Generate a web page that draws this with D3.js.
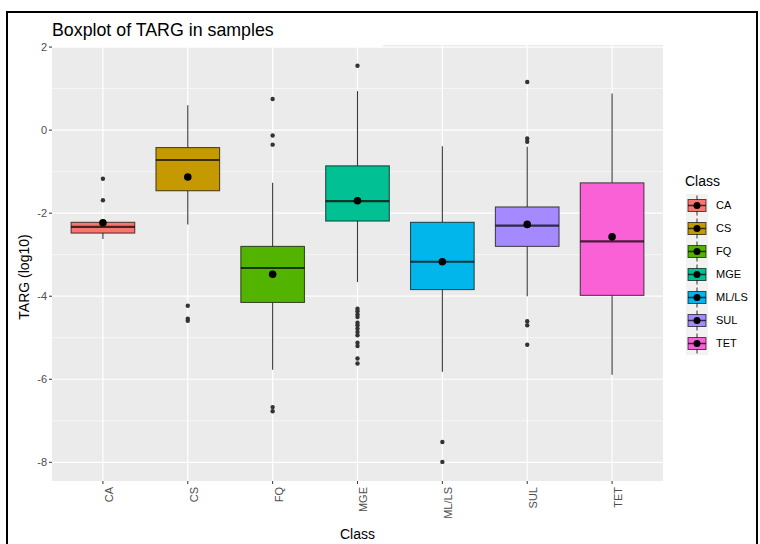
<!DOCTYPE html>
<html><head><meta charset="utf-8">
<script src="https://cdn.jsdelivr.net/npm/d3@7"></script>
<style>body{margin:0;background:#fff;font-family:"Liberation Sans",Arial,sans-serif;}</style>
</head><body><svg id="c" width="760" height="544"></svg>
<script>
const categories = ["CA","CS","FQ","MGE","ML/LS","SUL","TET"];
const colors = ["#F8766D","#C49A00","#53B400","#00C094","#00B6EB","#A58AFF","#FB61D7"];
const q1 = [-2.48,-1.46,-4.15,-2.19,-3.84,-2.80,-3.98];
const medians = [-2.33,-0.72,-3.32,-1.71,-3.17,-2.30,-2.68];
const q3 = [-2.22,-0.42,-2.80,-0.86,-2.22,-1.85,-1.27];
const whiskerLow = [-2.62,-2.27,-5.77,-3.66,-5.82,-4.00,-5.89];
const whiskerHigh = [-2.20,0.60,-1.27,0.94,-0.39,-0.40,0.88];
const means = [-2.23,-1.13,-3.47,-1.70,-3.17,-2.27,-2.57];
const outliers = [
  [-1.17,-1.69],
  [-4.23,-4.54,-4.59],
  [0.75,-0.13,-0.35,-6.67,-6.77],
  [1.55,-4.30,-4.36,-4.44,-4.50,-4.64,-4.70,-4.78,-4.86,-4.94,-5.12,-5.20,-5.50,-5.62],
  [-7.51,-7.99],
  [1.16,-0.20,-0.28,-4.60,-4.70,-5.17],
  []
];
const yTicks = [-8,-6,-4,-2,0,2];
const yMinor = [-7,-5,-3,-1,1];

const svg = d3.select("#c");
const P = {l:52, r:663, t:45, b:481};
const y = d3.scaleLinear().domain([-8.45,2.05]).range([P.b,P.t]);
const x = d3.scalePoint().domain(categories).range([P.l,P.r]).padding(0.6);
const bw = x.step()*0.75;

// outer border
svg.append("rect").attr("x",7).attr("y",12).attr("width",750).attr("height",540)
  .attr("fill","none").attr("stroke","#000").attr("stroke-width",2);

// panel
svg.append("rect").attr("x",P.l).attr("y",P.t).attr("width",P.r-P.l).attr("height",P.b-P.t).attr("fill","#EBEBEB");
const g = svg.append("g");
g.selectAll(".mn").data(yMinor).join("line").attr("x1",P.l).attr("x2",P.r)
  .attr("y1",d=>y(d)).attr("y2",d=>y(d)).attr("stroke","#fff").attr("stroke-width",0.6);
g.selectAll(".mj").data(yTicks).join("line").attr("x1",P.l).attr("x2",P.r)
  .attr("y1",d=>y(d)).attr("y2",d=>y(d)).attr("stroke","#fff").attr("stroke-width",1.2);
g.selectAll(".vx").data(categories).join("line").attr("x1",d=>x(d)).attr("x2",d=>x(d))
  .attr("y1",P.t).attr("y2",P.b).attr("stroke","#fff").attr("stroke-width",1.2);

// title with white background
svg.append("rect").attr("x",20).attr("y",16).attr("width",363).attr("height",31).attr("fill","#fff");
svg.append("text").attr("x",P.l).attr("y",36).attr("font-size",17.8).attr("fill","#000")
  .text("Boxplot of TARG in samples");

// boxes
const bx = svg.append("g");
categories.forEach((c,i)=>{
  const cx = x(c);
  bx.append("line").attr("x1",cx).attr("x2",cx).attr("y1",y(whiskerHigh[i])).attr("y2",y(q3[i]))
    .attr("stroke","#3a3a3a").attr("stroke-width",1.1);
  bx.append("line").attr("x1",cx).attr("x2",cx).attr("y1",y(q1[i])).attr("y2",y(whiskerLow[i]))
    .attr("stroke","#3a3a3a").attr("stroke-width",1.1);
  bx.append("rect").attr("x",cx-bw/2).attr("width",bw).attr("y",y(q3[i])).attr("height",y(q1[i])-y(q3[i]))
    .attr("fill",colors[i]).attr("stroke","rgba(0,0,0,0.65)").attr("stroke-width",1.1);
  bx.append("line").attr("x1",cx-bw/2).attr("x2",cx+bw/2).attr("y1",y(medians[i])).attr("y2",y(medians[i]))
    .attr("stroke","rgba(0,0,0,0.7)").attr("stroke-width",2.2);
  outliers[i].forEach(v=>{
    bx.append("circle").attr("cx",cx).attr("cy",y(v)).attr("r",2.2).attr("fill","#333");
  });
  bx.append("circle").attr("cx",cx).attr("cy",y(means[i])).attr("r",3.8).attr("fill","#000");
});

// axes
const ya = svg.append("g");
yTicks.forEach(t=>{
  ya.append("line").attr("x1",P.l-3).attr("x2",P.l).attr("y1",y(t)).attr("y2",y(t)).attr("stroke","#333");
  ya.append("text").attr("x",P.l-5).attr("y",y(t)).attr("dy","0.35em").attr("text-anchor","end")
    .attr("font-size",11).attr("fill","#4D4D4D").text(t);
});
const xa = svg.append("g");
categories.forEach(c=>{
  xa.append("line").attr("x1",x(c)).attr("x2",x(c)).attr("y1",P.b).attr("y2",P.b+3).attr("stroke","#333");
  xa.append("text").attr("transform",`translate(${x(c)},${P.b+6}) rotate(-90)`).attr("dy","0.9em")
    .attr("text-anchor","end").attr("font-size",11).attr("fill","#4D4D4D").text(c);
});
svg.append("text").attr("x",(P.l+P.r)/2).attr("y",539).attr("text-anchor","middle").attr("font-size",14).text("Class");
svg.append("text").attr("transform",`translate(29,277) rotate(-90)`).attr("text-anchor","middle")
  .attr("font-size",14).text("TARG (log10)");

// legend
const lg = svg.append("g");
lg.append("text").attr("x",685).attr("y",186).attr("font-size",14).text("Class");
const ky0 = 194, kh = 23;
lg.append("rect").attr("x",686).attr("y",ky0).attr("width",22).attr("height",kh*categories.length).attr("fill","#F2F2F2");
categories.forEach((c,i)=>{
  const cy = ky0 + kh*i + kh/2, cx = 697;
  lg.append("line").attr("x1",cx).attr("x2",cx).attr("y1",cy-10).attr("y2",cy+10).attr("stroke","#333");
  lg.append("rect").attr("x",cx-9).attr("y",cy-6).attr("width",18).attr("height",12)
    .attr("fill",colors[i]).attr("stroke","rgba(0,0,0,0.65)");
  lg.append("line").attr("x1",cx-9).attr("x2",cx+9).attr("y1",cy).attr("y2",cy).attr("stroke","rgba(0,0,0,0.7)").attr("stroke-width",1.5);
  lg.append("circle").attr("cx",cx).attr("cy",cy).attr("r",3.5).attr("fill","#000");
  lg.append("text").attr("x",716).attr("y",cy).attr("dy","0.35em").attr("font-size",11).text(c);
});
</script></body></html>
